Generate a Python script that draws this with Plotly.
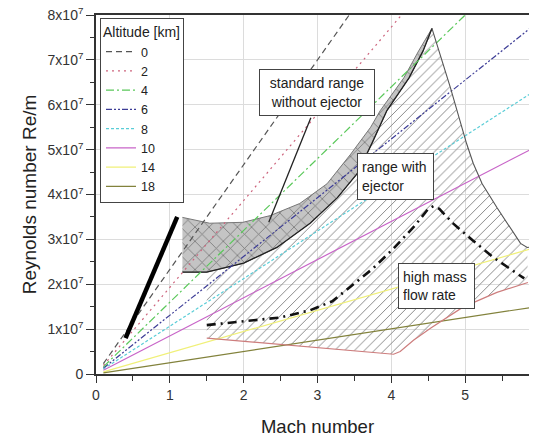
import plotly.graph_objects as go

# ---------------- data ----------------
alt_km = [0, 2, 4, 6, 8, 10, 14, 18]
alt_mach = [0.1, 6.0]
alt_re_start = [0.23e7, 0.19e7, 0.16e7, 0.13e7, 0.11e7, 0.085e7, 0.047e7, 0.025e7]
alt_re_end = [14.0e7, 11.6e7, 9.6e7, 7.86e7, 6.37e7, 5.1e7, 2.84e7, 1.51e7]
alt_colors = ["#555555", "rgb(205,100,125)", "rgb(90,200,90)", "rgb(60,60,150)",
              "rgb(90,205,215)", "rgb(200,100,200)", "rgb(240,240,120)", "rgb(130,130,60)"]
alt_dash = ["6px,4px", "2px,4px", "8px,3px,2px,3px", "6px,2px,2px,2px,2px,2px",
            "3px,2px", "solid", "solid", "solid"]

# thick black line (low Mach)
thick_mach = [0.40, 1.10]
thick_re = [0.80e7, 3.50e7]

# standard range without ejector (grey band)
std_top_mach = [1.17, 1.54, 1.99, 2.36, 2.76, 3.13, 3.45, 3.72, 3.85, 4.17, 4.37, 4.55]
std_top_re = [3.49e7, 3.36e7, 3.38e7, 3.53e7, 3.80e7, 4.24e7, 4.90e7, 5.50e7, 5.87e7, 6.60e7, 7.20e7, 7.70e7]
std_bot_mach = [1.17, 1.50, 2.00, 2.45, 2.90, 3.27, 3.54, 3.74, 3.94, 4.24, 4.43, 4.55]
std_bot_re = [2.27e7, 2.27e7, 2.47e7, 2.82e7, 3.36e7, 3.93e7, 4.47e7, 5.15e7, 5.87e7, 6.60e7, 7.20e7, 7.70e7]

# range with ejector (hatched)
low_mach = [1.50, 4.03, 4.12, 4.30, 4.53, 4.97, 5.43, 5.85]
low_re = [0.80e7, 0.44e7, 0.50e7, 0.75e7, 1.02e7, 1.49e7, 1.82e7, 2.04e7]
right_mach = [4.55, 4.66, 4.80, 4.93, 5.02, 5.11, 5.23, 5.43, 5.61, 5.75, 5.84, 5.97]
right_re = [7.70e7, 7.13e7, 6.38e7, 5.64e7, 5.13e7, 4.69e7, 4.24e7, 3.71e7, 3.27e7, 2.91e7, 2.82e7, 2.85e7]

# high mass flow rate (dash-dot)
hm_mach = [1.50, 2.00, 2.50, 2.90, 3.20, 3.45, 3.75, 4.02, 4.30, 4.50, 4.57, 4.65, 4.84, 5.10, 5.38, 5.80]
hm_re = [1.09e7, 1.17e7, 1.26e7, 1.42e7, 1.62e7, 1.95e7, 2.35e7, 2.78e7, 3.27e7, 3.68e7, 3.74e7, 3.68e7,
         3.35e7, 2.98e7, 2.60e7, 2.13e7]

# pointer line of the "standard range" label
pointer_mach = [2.91, 2.34]
pointer_re = [5.71e7, 3.38e7]

labels = ["standard range<br>without ejector", "range with<br>ejector", "high mass<br>flow rate"]
label_mach = [2.99, 4.06, 4.605]
label_re = [6.27e7, 4.40e7, 1.96e7]

y_ticks = [0, 1e7, 2e7, 3e7, 4e7, 5e7, 6e7, 7e7, 8e7]
y_ticktext = ["0"] + ["%dx10<sup>7</sup>" % i for i in range(1, 9)]
x_ticks = [0, 1, 2, 3, 4, 5, 6]

# ---------------- figure ----------------
fig = go.Figure()

# hatched region polygon
hx = low_mach + right_mach[-2::-1] + std_bot_mach[-1:0:-1]
hy = low_re + right_re[-2::-1] + std_bot_re[-1:0:-1]
fig.add_trace(go.Scatter(x=hx, y=hy, mode="lines", fill="toself",
                         fillcolor="rgba(255,255,255,0)",
                         fillpattern=dict(shape="/", fgcolor="#8a8a8a", bgcolor="rgba(255,255,255,0)",
                                          size=7, solidity=0.14, fillmode="replace"),
                         line=dict(width=0), showlegend=False, hoverinfo="skip"))

# grey band
gx = std_top_mach + std_bot_mach[::-1]
gy = std_top_re + std_bot_re[::-1]
fig.add_trace(go.Scatter(x=gx, y=gy, mode="lines", fill="toself",
                         fillcolor="rgb(192,192,192)",
                         fillpattern=dict(shape="x", fgcolor="rgb(115,115,115)", bgcolor="rgb(196,196,196)",
                                          size=10, solidity=0.15, fillmode="replace"),
                         line=dict(width=1, color="#777"), showlegend=False, hoverinfo="skip"))
fig.add_trace(go.Scatter(x=std_bot_mach, y=std_bot_re, mode="lines",
                         line=dict(width=1.3, color="#222"), showlegend=False, hoverinfo="skip"))

# altitude lines
for k, rs, re_, c, d in zip(alt_km, alt_re_start, alt_re_end, alt_colors, alt_dash):
    fig.add_trace(go.Scatter(x=alt_mach, y=[rs, re_], mode="lines", name=str(k),
                             line=dict(color=c, width=1.2, dash=d), hoverinfo="skip"))

# boundaries of hatched region
fig.add_trace(go.Scatter(x=low_mach, y=low_re, mode="lines",
                         line=dict(width=1.2, color="rgb(205,125,125)"), showlegend=False, hoverinfo="skip"))
fig.add_trace(go.Scatter(x=right_mach, y=right_re, mode="lines",
                         line=dict(width=1.1, color="#555"), showlegend=False, hoverinfo="skip"))

# high mass flow rate
fig.add_trace(go.Scatter(x=hm_mach, y=hm_re, mode="lines",
                         line=dict(width=2.6, color="#111", dash="9px,5px,2px,5px"),
                         showlegend=False, hoverinfo="skip"))

# thick black line
fig.add_trace(go.Scatter(x=thick_mach, y=thick_re, mode="lines",
                         line=dict(width=4.5, color="#000"), showlegend=False, hoverinfo="skip"))

# pointer
fig.add_trace(go.Scatter(x=pointer_mach, y=pointer_re, mode="lines",
                         line=dict(width=1.3, color="#222"), showlegend=False, hoverinfo="skip"))

ann_specs = [dict(align="center", width=106, height=37),
             dict(align="left", width=67, height=37),
             dict(align="left", width=67, height=36)]
for t, xm, yr, s in zip(labels, label_mach, label_re, ann_specs):
    fig.add_annotation(x=xm, y=yr, xref="x", yref="y", text=t, showarrow=False,
                       font=dict(size=14, color="#222"), bgcolor="white",
                       bordercolor="#444", borderwidth=1, borderpad=4,
                       align=s["align"], width=s["width"], height=s["height"])

fig.update_layout(
    width=537, height=435,
    margin=dict(l=88, r=6, t=7, b=69, autoexpand=False),
    plot_bgcolor="white", paper_bgcolor="white",
    font=dict(family="Liberation Sans, Arial, sans-serif", color="#222", size=14),
    legend=dict(x=0.009, y=0.992, xanchor="left", yanchor="top",
                bgcolor="white", bordercolor="#444", borderwidth=1,
                title=dict(text="Altitude [km]", font=dict(size=14)),
                font=dict(size=12.5), itemwidth=30),
)
fig.update_xaxes(range=[0, 6], tickvals=x_ticks, ticks="outside", ticklen=7, tickwidth=1.3,
                 tickcolor="#333", showline=True, linecolor="#333", linewidth=1.6, mirror=True,
                 showgrid=True, gridcolor="#dcdcdc", gridwidth=1, zeroline=False, automargin=False,
                 ticklabeloverflow="allow",
                 minor=dict(dtick=0.5, ticks="outside", ticklen=5, tickcolor="#333", showgrid=False),
                 tickfont=dict(size=14, color="#333"),
                 title=dict(text="Mach number", font=dict(size=18.5, color="#222"), standoff=18))
fig.update_yaxes(range=[0, 8e7], tickvals=y_ticks, ticktext=y_ticktext, ticks="outside", ticklen=8,
                 tickwidth=1.3, tickcolor="#333", showline=True, linecolor="#333", linewidth=1.6,
                 showgrid=True, gridcolor="#dcdcdc", gridwidth=1, zeroline=False, automargin=False,
                 ticklabeloverflow="allow",
                 minor=dict(dtick=0.5e7, ticks="outside", ticklen=4, tickcolor="#333", showgrid=False),
                 tickfont=dict(size=14, color="#333"),
                 title=dict(text="Reynolds number Re/m", font=dict(size=19, color="#222"), standoff=6))

fig.write_html("out.html")
